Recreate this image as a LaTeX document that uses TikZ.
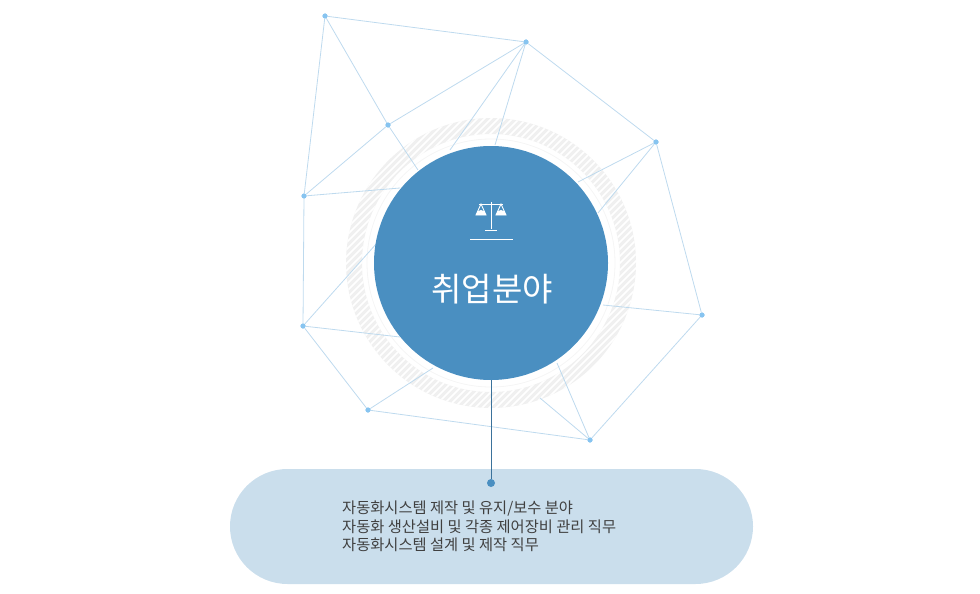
\documentclass[tikz,border=0pt]{standalone}
\usepackage{fontspec}
\setmainfont{Noto Sans CJK KR}
\usetikzlibrary{patterns}
\definecolor{netline}{RGB}{190,218,238}
\definecolor{netdot}{RGB}{135,196,240}
\definecolor{mainblue}{RGB}{74,143,193}
\definecolor{pillblue}{RGB}{202,222,236}
\tikzset{
  net/.style={draw=netline, line width=0.8pt},
  netpt/.style={circle, fill=netdot, inner sep=0pt, minimum size=5pt},
}
\begin{document}
\begin{tikzpicture}[x=1pt,y=-1pt]
\useasboundingbox (0,0) rectangle (980,594);

% network points
\node[netpt] (A) at (325,16) {};
\node[netpt] (B) at (526,42) {};
\node[netpt] (C) at (388,125) {};
\node[netpt] (D) at (304,196) {};
\node[netpt] (E) at (656,142) {};
\node[netpt] (F) at (702,315) {};
\node[netpt] (G) at (303,326) {};
\node[netpt] (H) at (368,410) {};
\node[netpt] (I) at (590,440) {};

% ring
\fill[gray!12, even odd rule] (491,263) circle (145) (491,263) circle (129);
\begin{scope}[even odd rule]
\clip (491,263) circle (145) (491,263) circle (129);
\foreach \k in {-340,-333,...,340}
  \draw[white, line width=1.6pt] (491+\k-170,433) -- (491+\k+170,93);
\end{scope}
\draw[gray!8, line width=0.8pt] (491,263) circle (124);

% network lines
\draw[net] (A) -- (B) (A) -- (C) (A) -- (D) (B) -- (C) (B) -- (E)
  (C) -- (D) (E) -- (F) (F) -- (I) (D) -- (G) (G) -- (H) (H) -- (I);
\draw[net] (B) -- (450,150) (B) -- (495,145) (C) -- (418,170) (D) -- (400,188)
  (E) -- (578,182) (E) -- (598,213) (F) -- (603,305) (G) -- (377,243)
  (G) -- (400,337) (H) -- (433,368) (I) -- (557,363) (I) -- (540,398);
\foreach \p in {A,B,C,D,E,F,G,H,I} \node[netpt] at (\p) {};

% centre
\node[circle, fill=mainblue, minimum size=234pt, inner sep=0pt] (hub) at (491,263) {};
\node[text=white, font=\fontsize{33}{36}\selectfont] (title) at (492,289) {취업분야};
\draw[white, line width=0.6pt] (470,239) -- (513,239);
% scale icon
\begin{scope}[white, line width=0.9pt]
\draw (491,202) -- (491,229);
\draw (479,204) -- (503,204);
\draw (485,230) -- (497,230);
\draw (481,204) -- (476,215) -- (486,215) -- cycle;
\draw (501,204) -- (496,215) -- (506,215) -- cycle;
\fill (476,215) arc[start angle=180, end angle=360, radius=5];
\fill (496,215) arc[start angle=180, end angle=360, radius=5];
\end{scope}

% detail box
\fill[pillblue, rounded corners=57.5pt] (230,469) rectangle (753,584);
\node[circle, fill=mainblue, inner sep=0pt, minimum size=8pt] (pin) at (491,483) {};
\draw[mainblue!80!black, line width=0.6pt] (hub.south) -- (pin);
\node[anchor=north west, align=left, text=black!75,
  font=\fontsize{15.3}{18.5}\selectfont, inner sep=0pt] (jobs) at (342,501)
  {자동화시스템 제작 및 유지/보수 분야\\자동화 생산설비 및 각종 제어장비 관리 직무\\자동화시스템 설계 및 제작 직무};
\end{tikzpicture}
\end{document}
